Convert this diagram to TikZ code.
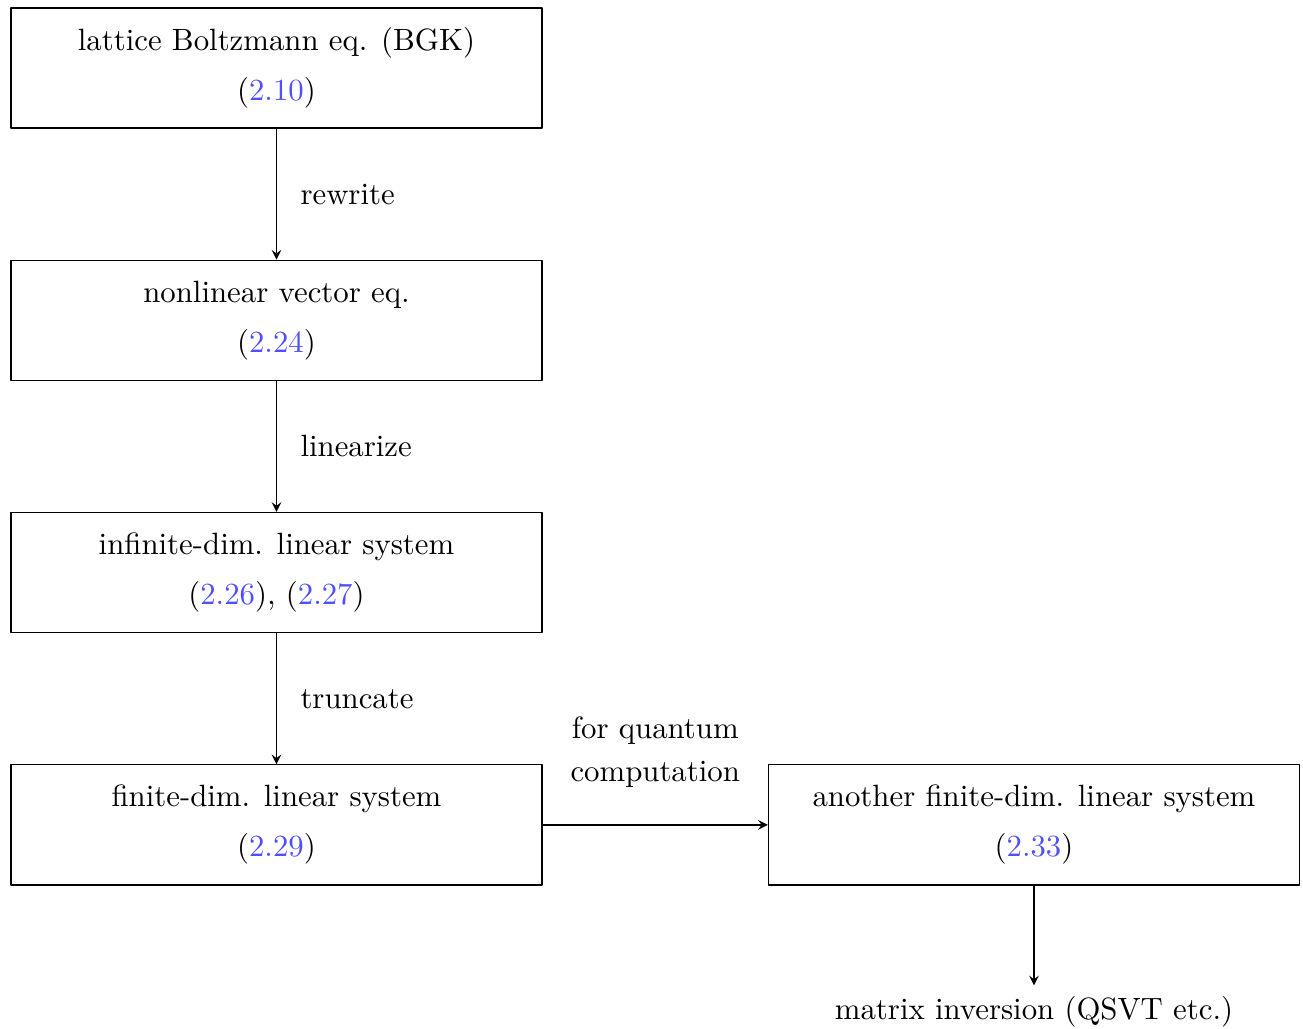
\documentclass[tikz,border=0pt]{standalone}
\usetikzlibrary{positioning}
\definecolor{eqref}{RGB}{80,80,255}
\newcommand{\eqn}[1]{(\textcolor{eqref}{#1})}
\begin{document}
\begin{tikzpicture}[>=stealth, line join=round,
		box/.style={draw, align=center, minimum width=6.06cm, minimum height=1.37cm},
		node distance=1.495cm]
			\useasboundingbox (-3.155,0.776) rectangle (11.714,-10.955);
			\node[box] (bgk) at (0,0) {lattice Boltzmann eq. (BGK)\\[4.2pt] \eqn{2.10}};
			\node[box, below=of bgk] (vec) {nonlinear vector eq.\\[4.2pt] \eqn{2.24}};
			\node[box, below=of vec] (inf) {infinite-dim. linear system\\[4.2pt] \eqn{2.26}, \eqn{2.27}};
			\node[box, below=of inf] (fin) {finite-dim. linear system\\[4.2pt] \eqn{2.29}};
			\node[box, right=2.57cm of fin] (ano) {another finite-dim. linear system\\[4.2pt] \eqn{2.33}};
			\node[below=1.14cm of ano] (inv) {matrix inversion (QSVT etc.)};
			\draw[->] (bgk) -- node[midway, right=1.5mm] {rewrite} (vec);
			\draw[->] (vec) -- node[midway, right=1.5mm] {linearize} (inf);
			\draw[->] (inf) -- node[midway, right=1.5mm] {truncate} (fin);
			\draw[->] (fin) -- node[midway, above=3mm, align=center] {for quantum\\[2pt] computation} (ano);
			\draw[->] (ano) -- (inv);
		\end{tikzpicture}
\end{document}
